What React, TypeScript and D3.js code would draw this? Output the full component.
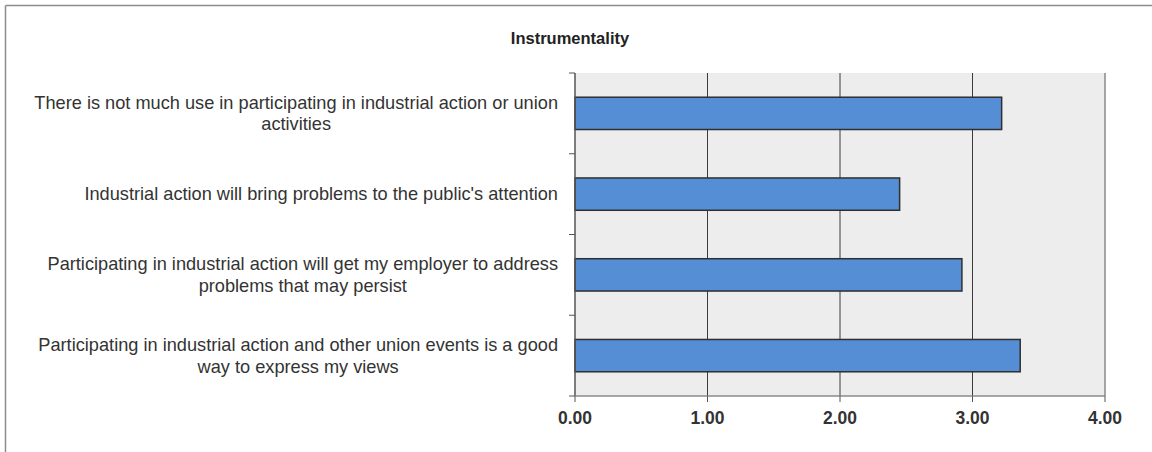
import React from "react";
import * as d3 from "d3";

const title = "Instrumentality";
const categories: string[][] = [
  ["There is not much use in participating in industrial action or union", "activities"],
  ["Industrial action will bring problems to the public's attention"],
  ["Participating in industrial action will get my employer to address", "problems that may persist"],
  ["Participating in industrial action and other union events is a good", "way to express my views"],
];
const values = [3.22, 2.45, 2.92, 3.36];
const xTicks = [0, 1, 2, 3, 4];

const W = 1152;
const H = 452;
const FONT = "'Liberation Sans', Arial, sans-serif";
const LABEL_SIZE = 18.2;
const LINE_H = 21.5;

function measure(text: string, font: string): number {
  const c = document.createElement("canvas").getContext("2d");
  if (!c) return text.length * 8;
  c.font = font;
  return c.measureText(text).width;
}

export default function App() {
  const plot = { left: 575, right: 1105, top: 73, bottom: 396 };
  const x = d3.scaleLinear().domain([0, 4]).range([plot.left, plot.right]);
  const y = d3
    .scaleBand<number>()
    .domain(d3.range(categories.length))
    .range([plot.top, plot.bottom])
    .paddingInner(0.6)
    .paddingOuter(0.3);
  const step = y.step();
  const labelRight = 558;
  const labelFont = `${LABEL_SIZE}px ${FONT}`;

  return (
    <svg
      width={W}
      height={H}
      style={{ position: "absolute", left: 0, top: 0, background: "#fff" }}
    >
      {/* chart frame (clipped on right and bottom) */}
      <line x1={5.5} y1={5.5} x2={W} y2={5.5} stroke="#8c8c8c" strokeWidth={1.5} />
      <line x1={5.5} y1={5.5} x2={5.5} y2={H} stroke="#8c8c8c" strokeWidth={1.5} />

      <text
        x={570}
        y={38}
        dy="0.35em"
        textAnchor="middle"
        fontFamily={FONT}
        fontWeight="bold"
        fontSize={16.5}
        fill="#222"
      >
        {title}
      </text>

      {/* plot area */}
      <rect
        x={plot.left}
        y={plot.top}
        width={plot.right - plot.left}
        height={plot.bottom - plot.top}
        fill="#ededed"
      />

      {/* vertical gridlines */}
      {xTicks.slice(1, -1).map((t) => (
        <line
          key={`g${t}`}
          x1={x(t)}
          x2={x(t)}
          y1={plot.top}
          y2={plot.bottom}
          stroke="#3a3a3a"
          strokeWidth={1}
        />
      ))}
      <line
        x1={x(4)}
        x2={x(4)}
        y1={plot.top}
        y2={plot.bottom}
        stroke="#8a8a8a"
        strokeWidth={1.5}
      />

      {/* bars */}
      {values.map((v, i) => (
        <rect
          key={`b${i}`}
          x={x(0)}
          y={y(i)!}
          width={x(v) - x(0)}
          height={y.bandwidth()}
          fill="#558ed5"
          stroke="#2f2f2f"
          strokeWidth={1.5}
        />
      ))}

      {/* category axis */}
      <line
        x1={plot.left}
        x2={plot.left}
        y1={plot.top}
        y2={plot.bottom}
        stroke="#555"
        strokeWidth={1.5}
      />
      {d3.range(categories.length + 1).map((i) => (
        <line
          key={`yt${i}`}
          x1={plot.left - 6}
          x2={plot.left}
          y1={plot.top + i * step}
          y2={plot.top + i * step}
          stroke="#555"
          strokeWidth={1}
        />
      ))}
      {categories.map((lines, i) => {
        const widths = lines.map((l) => measure(l, labelFont));
        const blockW = Math.max(...widths);
        const cx = labelRight - blockW / 2;
        const cy = y(i)! + y.bandwidth() / 2;
        const firstY = cy - ((lines.length - 1) * LINE_H) / 2;
        return (
          <text
            key={`c${i}`}
            textAnchor="middle"
            fontFamily={FONT}
            fontSize={LABEL_SIZE}
            fill="#333"
          >
            {lines.map((l, j) => (
              <tspan key={j} x={cx} y={firstY + j * LINE_H} dy="0.35em">
                {l}
              </tspan>
            ))}
          </text>
        );
      })}

      {/* value axis */}
      <line
        x1={plot.left}
        x2={plot.right}
        y1={plot.bottom}
        y2={plot.bottom}
        stroke="#8a8a8a"
        strokeWidth={1.5}
      />
      {xTicks.map((t) => (
        <g key={`xt${t}`}>
          <line
            x1={x(t)}
            x2={x(t)}
            y1={plot.bottom}
            y2={plot.bottom + 6}
            stroke="#555"
            strokeWidth={1}
          />
          <text
            x={x(t)}
            y={418}
            dy="0.35em"
            textAnchor="middle"
            fontFamily={FONT}
            fontWeight="bold"
            fontSize={17.5}
            fill="#333"
          >
            {d3.format(".2f")(t)}
          </text>
        </g>
      ))}
    </svg>
  );
}
